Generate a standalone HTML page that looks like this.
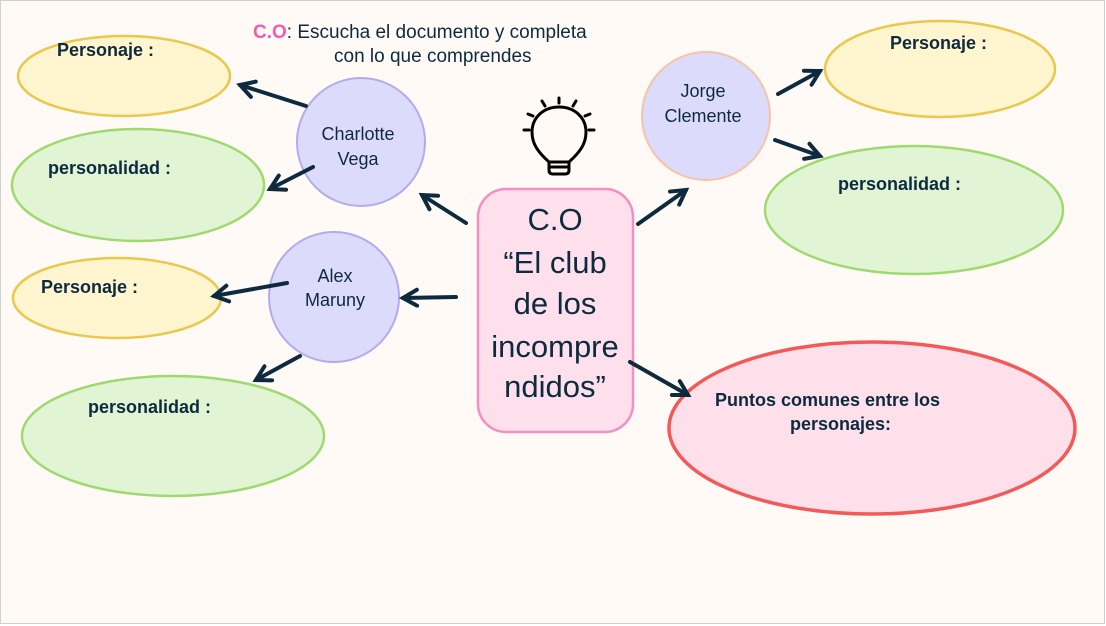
<!DOCTYPE html>
<html><head><meta charset="utf-8"><style>
html,body{margin:0;padding:0;background:#fff;}
svg{display:block;}
text{font-family:"Liberation Sans",sans-serif;fill:#0d2a3e;}
</style></head><body>
<svg width="1106" height="626" viewBox="0 0 1106 626" xmlns="http://www.w3.org/2000/svg">
<defs>
<marker id="a" viewBox="0 0 10 10" refX="8" refY="5" markerWidth="5" markerHeight="5" orient="auto"><path d="M1,1 L8,5 L1,9" fill="none" stroke="#0d2a3e" stroke-width="2" stroke-linecap="round"/></marker>
</defs>
<rect x="0.5" y="0.5" width="1104" height="623" fill="#fffaf6" stroke="#cfcfcf"/>
<!-- title -->
<text x="253" y="38" font-size="19"><tspan fill="#f25bb4" font-weight="bold" style="fill:#f25bb4">C.O</tspan>: Escucha el documento y completa</text>
<text x="334" y="62" font-size="19">con lo que comprendes</text>
<!-- left ellipses -->
<ellipse cx="124" cy="76" rx="106" ry="40" fill="#fff5cf" stroke="#e9c84b" stroke-width="2.5"/>
<text x="57" y="56" font-size="18" font-weight="bold">Personaje :</text>
<ellipse cx="138" cy="185" rx="126" ry="56" fill="#e1f5d5" stroke="#9fd970" stroke-width="2.5"/>
<text x="48" y="174" font-size="18" font-weight="bold">personalidad :</text>
<ellipse cx="117" cy="298" rx="104" ry="40" fill="#fff5cf" stroke="#e9c84b" stroke-width="2.5"/>
<text x="41" y="293" font-size="18" font-weight="bold">Personaje :</text>
<ellipse cx="173" cy="436" rx="151" ry="60" fill="#e1f5d5" stroke="#9fd970" stroke-width="2.5"/>
<text x="88" y="413" font-size="18" font-weight="bold">personalidad :</text>
<!-- circles -->
<circle cx="361" cy="142" r="64" fill="#dcdbfb" stroke="#b3abee" stroke-width="2"/>
<text x="358" y="140" font-size="18" text-anchor="middle">Charlotte</text>
<text x="358" y="165" font-size="18" text-anchor="middle">Vega</text>
<circle cx="334" cy="297" r="65" fill="#dcdbfb" stroke="#b3abee" stroke-width="2"/>
<text x="335" y="282" font-size="18" text-anchor="middle">Alex</text>
<text x="335" y="306" font-size="18" text-anchor="middle">Maruny</text>
<circle cx="706" cy="116" r="64" fill="#dcdbfb" stroke="#f5c4a8" stroke-width="2"/>
<text x="703" y="97" font-size="18" text-anchor="middle">Jorge</text>
<text x="703" y="122" font-size="18" text-anchor="middle">Clemente</text>
<!-- right ellipses -->
<ellipse cx="940" cy="69" rx="115" ry="48" fill="#fff5cf" stroke="#e9c84b" stroke-width="2.5"/>
<text x="890" y="49" font-size="18" font-weight="bold">Personaje :</text>
<ellipse cx="914" cy="210" rx="149" ry="64" fill="#e1f5d5" stroke="#9fd970" stroke-width="2.5"/>
<text x="838" y="190" font-size="18" font-weight="bold">personalidad :</text>
<ellipse cx="872" cy="428" rx="203" ry="86" fill="#fde0ea" stroke="#f25a5a" stroke-width="3.5"/>
<text x="715" y="406" font-size="18" font-weight="bold">Puntos comunes entre los</text>
<text x="790" y="430" font-size="18" font-weight="bold">personajes:</text>
<!-- center box -->
<rect x="478" y="189" width="155" height="243" rx="28" fill="#fde0ec" stroke="#f48fc3" stroke-width="2.5"/>
<g font-size="31" text-anchor="middle"><text x="555" y="230">C.O</text><text x="555" y="273">“El club</text><text x="555" y="314">de los</text><text x="555" y="357">incompre</text><text x="555" y="397">ndidos”</text></g>
<!-- bulb -->
<g stroke="#000" stroke-width="3" fill="none" stroke-linecap="round">
<path d="M549,162 C538,152 532,144 532,132 C532,117 544,107 559,107 C574,107 586,117 586,132 C586,144 580,152 569,162 Z"/>
<path d="M549,162 L549,170 Q549,174 553,174 L565,174 Q569,174 569,170 L569,162 M549,167 L569,167"/>
<path d="M559,98 L559,103 M542,101 L545,106 M576,101 L573,106 M528,114 L533,116 M590,114 L585,116 M524,130 L529,130 M589,130 L594,130"/>
</g>
<!-- arrows -->
<g stroke="#0d2a3e" stroke-width="4" stroke-linecap="round" fill="none" marker-end="url(#a)">
<line x1="306" y1="106" x2="240" y2="85"/>
<line x1="313" y1="167" x2="270" y2="189"/>
<line x1="466" y1="223" x2="422" y2="195"/>
<line x1="456" y1="297" x2="403" y2="298"/>
<line x1="287" y1="283" x2="214" y2="296"/>
<line x1="300" y1="356" x2="256" y2="380"/>
<line x1="638" y1="224" x2="686" y2="190"/>
<line x1="778" y1="94" x2="820" y2="71"/>
<line x1="775" y1="140" x2="820" y2="156"/>
<line x1="630" y1="362" x2="688" y2="395"/>
</g>
</svg>
</body></html>
